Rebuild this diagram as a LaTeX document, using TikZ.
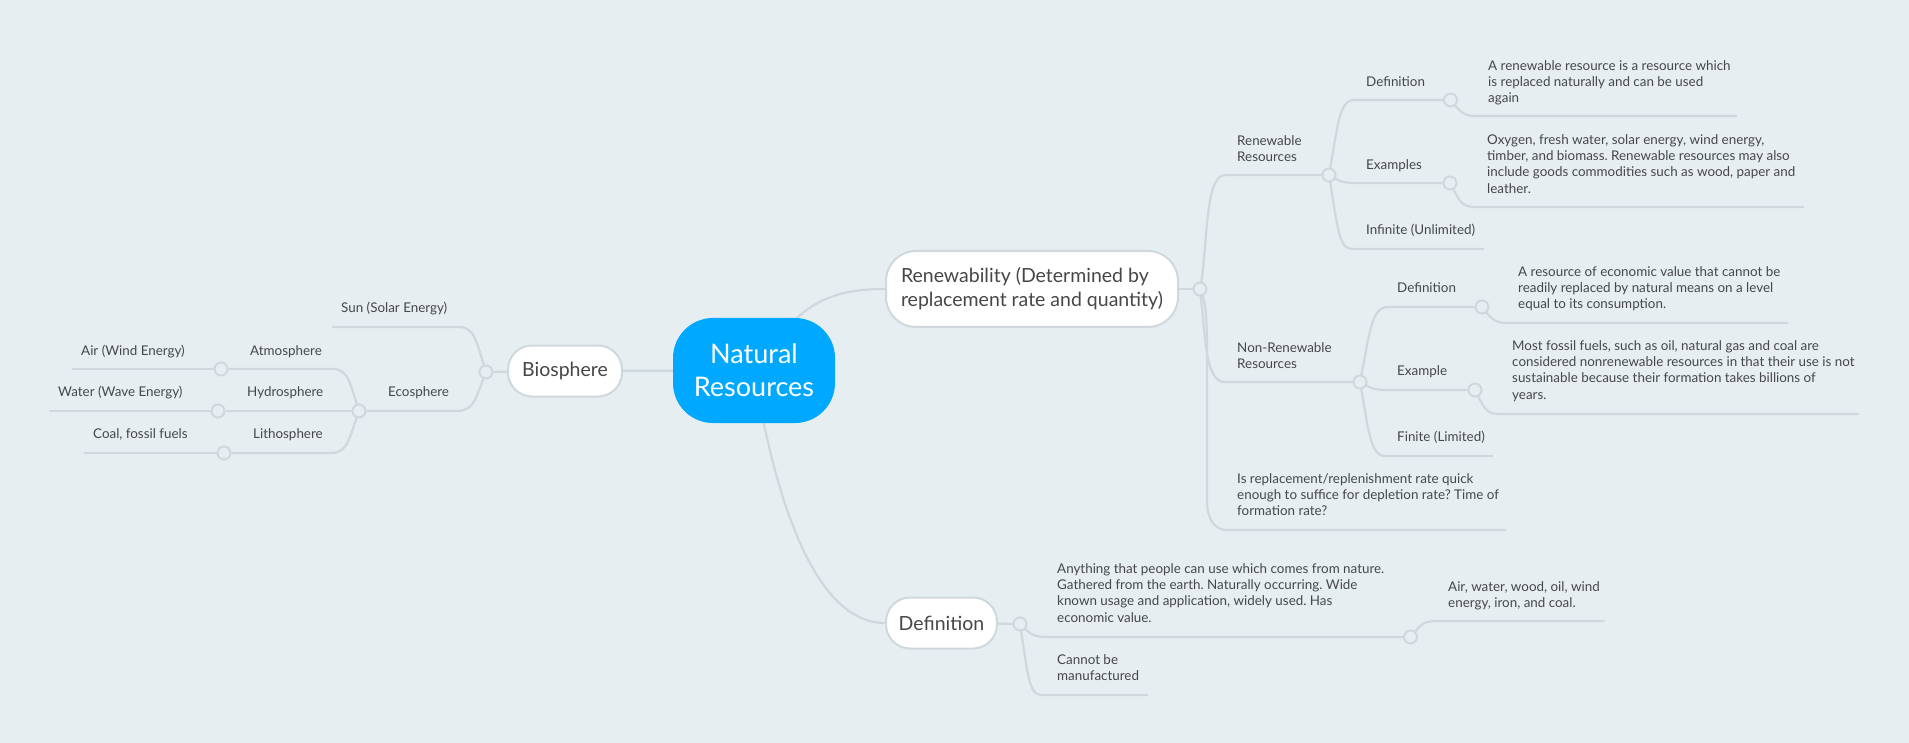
\documentclass[tikz,border=0pt]{standalone}
\usepackage{fontspec}
\setmainfont{Lato}
\frenchspacing
\usetikzlibrary{calc,backgrounds}
\definecolor{pagebg}{HTML}{E6EEF1}
\definecolor{twigcol}{HTML}{CFD8DC}
\definecolor{inkcol}{HTML}{474747}
\definecolor{rootcol}{HTML}{00A9FF}
\tikzset{
    x=1pt, y=-1pt,
    root/.style={rounded corners=40pt, fill=rootcol, text=white, align=center,
        minimum width=162pt, minimum height=105pt, inner sep=0pt,
        font=\fontsize{27}{33}\selectfont},
    topic/.style={draw=twigcol, line width=2pt, rounded corners=24pt, fill=white, text=inkcol,
        align=left, minimum height=51pt, inner sep=0pt, font=\fontsize{19.5}{24}\selectfont},
    leaf/.style={anchor=west, inner sep=0pt, yshift=-1.5pt, text=inkcol, align=left,
        font=\fontsize{13.4}{16}\selectfont,
        execute at begin node=\strut, execute at end node=\strut},
    hub/.style={circle, draw=twigcol, line width=2pt, fill=pagebg, minimum size=13pt, inner sep=0pt},
    branch/.style={draw=twigcol, line width=2.2pt},
    elbow/.style={to path={.. controls ($(\tikztostart)!.65!(\tikztostart|-\tikztotarget) + .35*(\tikztotarget) - .35*(\tikztostart|-\tikztotarget)$)
        and ($(\tikztotarget)!.6!(\tikztostart|-\tikztotarget)$) .. (\tikztotarget)}}
}
\begin{document}
\begin{tikzpicture}
\useasboundingbox (0,0) rectangle (1909,743);

\node[root] (resources) at (754,370.5) {Natural\\Resources};
\node[topic, minimum width=114pt] (biosphere) at (565,371) {Biosphere};
\node[topic, minimum width=292pt, minimum height=76pt, rounded corners=30pt] (renewability) at (1032,289)
    {Renewability (Determined by\\replacement rate and quantity)};
\node[topic, minimum width=111pt] (definition) at (941.5,623) {Definition};

\foreach \name/\x/\y in {hubBio/486/372, hubEco/359/411, hubAtmo/221/369, hubHydro/218/411,
    hubLitho/224/453, hubRes/1200/289, hubRenew/1329/175, hubRenewDef/1450.5/100, hubRenewEx/1450/183,
    hubNon/1360/382, hubNonDef/1482/307, hubNonEx/1475/390, hubDef/1020/624, hubGather/1410.5/637}
    \node[hub] (\name) at (\x,\y) {};

\foreach \name/\x/\y in {sunEnd/332/327, airEnd/72/369, waterEnd/49/411, coalEnd/84/453,
    infEnd/1484/249, renewDefEnd/1737/116, renewExEnd/1804/207, finEnd/1493/456, nonDefEnd/1788/323,
    nonExEnd/1859/414, replEnd/1506/530, cannotEnd/1148/695, ironEnd/1604.5/621}
    \coordinate (\name) at (\x,\y);

\node[leaf] (sun) at (341,308) {Sun (Solar Energy)};
\node[leaf] (ecosphere) at (388,392) {Ecosphere};
\node[leaf] (atmosphere) at (250,351) {Atmosphere};
\node[leaf] (hydrosphere) at (247,392) {Hydrosphere};
\node[leaf] (lithosphere) at (253,434) {Lithosphere};
\node[leaf] (air) at (81,351) {Air (Wind Energy)};
\node[leaf] (water) at (58,392) {Water (Wave Energy)};
\node[leaf] (coal) at (93,434) {Coal, fossil fuels};

\node[leaf] (renewable) at (1237,149) {Renewable\\Resources};
\node[leaf] (renewDef) at (1366,82) {Definition};
\node[leaf] (renewDefText) at (1488,82) {A renewable resource is a resource which\\is replaced naturally and can be used\\again};
\node[leaf] (renewEx) at (1366,164.5) {Examples};
\node[leaf] (renewExText) at (1487,164.5) {Oxygen, fresh water, solar energy, wind energy,\\timber, and biomass. Renewable resources may also\\include goods commodities such as wood, paper and\\[1pt]leather.};
\node[leaf] (infinite) at (1366,230) {Infinite (Unlimited)};

\node[leaf] (nonRenew) at (1237,356) {Non-Renewable\\Resources};
\node[leaf] (nonDef) at (1397,288) {Definition};
\node[leaf] (nonDefText) at (1518,288) {A resource of economic value that cannot be\\readily replaced by natural means on a level\\equal to its consumption.};
\node[leaf] (nonEx) at (1397,371) {Example};
\node[leaf] (nonExText) at (1512,370.5) {Most fossil fuels, such as oil, natural gas and coal are\\considered nonrenewable resources in that their use is not\\sustainable because their formation takes billions of\\[1pt]years.};
\node[leaf] (finite) at (1397,437) {Finite (Limited)};
\node[leaf] (replenish) at (1237,495.5) {Is replacement/replenishment rate quick\\enough to suffice for depletion rate? Time of\\formation rate?};

\node[leaf] (anything) at (1057,594) {Anything that people can use which comes from nature.\\Gathered from the earth. Naturally occurring. Wide\\known usage and application, widely used. Has\\[1pt]economic value.};
\node[leaf] (ironText) at (1448,595) {Air, water, wood, oil, wind\\energy, iron, and coal.};
\node[leaf] (cannot) at (1057,668.5) {Cannot be\\manufactured};

\begin{scope}[on background layer]
\fill[pagebg] (0,0) rectangle (1909,743);

\draw[branch] (resources) -- (biosphere);
\draw[branch] (resources.center) .. controls (795,312) and (818,289) .. (renewability);
\draw[branch] (resources.center) .. controls (775,500) and (815,623) .. (definition);
\draw[branch] (biosphere) -- (hubBio);
\draw[branch] (renewability) -- (hubRes);
\draw[branch] (definition) -- (hubDef);

\draw[branch] (hubRes.center) .. controls (1208,250) and (1204,175) .. (1225,175) -- (hubRenew);
\draw[branch] (hubRes.center) .. controls (1206,340) and (1205,382) .. (1225,382) -- (hubNon);
\draw[branch] (hubRes.center) .. controls (1206,300) and (1207,320) .. (1207,350) -- (1207,500)
    .. controls (1207,520) and (1215,530) .. (1227,530) -- (replEnd);

\foreach \parent/\x/\y/\child in {hubBio/459/327/sunEnd, hubBio/457/411/hubEco, hubEco/333/369/hubAtmo,
    hubEco/340/411/hubHydro, hubEco/331/453/hubLitho, hubAtmo/200/369/airEnd, hubHydro/200/411/waterEnd,
    hubLitho/200/453/coalEnd, hubRenew/1354/100/hubRenewDef, hubRenew/1356/183/hubRenewEx,
    hubRenew/1352/249/infEnd, hubRenewDef/1477/116/renewDefEnd, hubRenewEx/1475/207/renewExEnd,
    hubNon/1388/307/hubNonDef, hubNon/1388/390/hubNonEx, hubNon/1385/456/finEnd,
    hubNonDef/1508/323/nonDefEnd, hubNonEx/1499/414/nonExEnd, hubDef/1047/637/hubGather,
    hubDef/1041/695/cannotEnd, hubGather/1437/621/ironEnd}
    \draw[branch] (\parent.center) to[elbow] (\x,\y) -- (\child);
\end{scope}
\end{tikzpicture}
\end{document}
